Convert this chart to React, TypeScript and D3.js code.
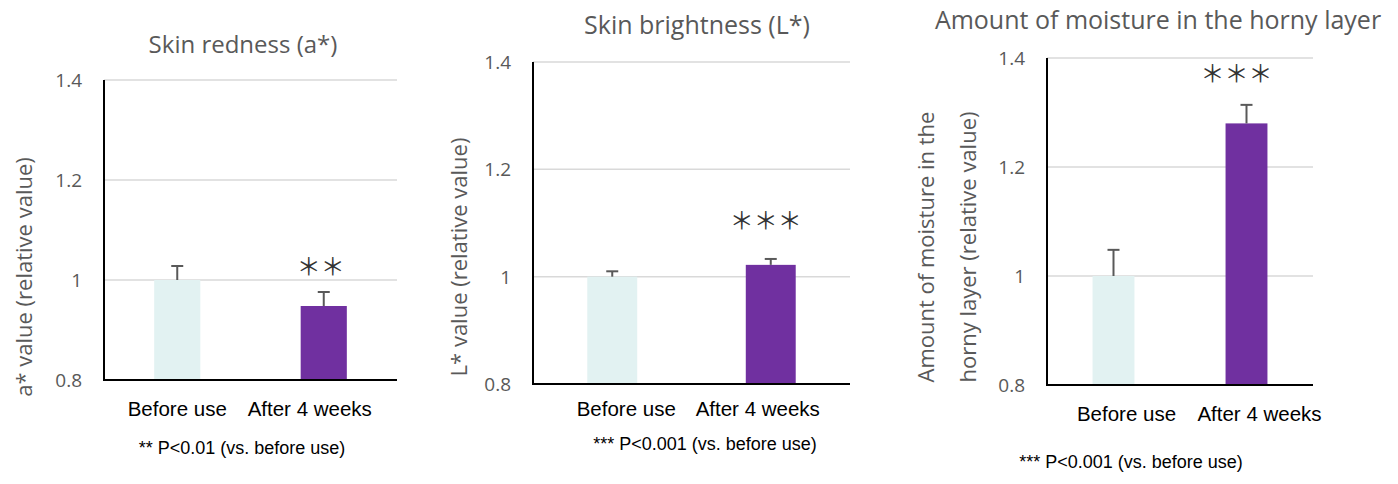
import * as d3 from "d3";

const categories = ["Before use", "After 4 weeks"];
const yTicks = [0.8, 1, 1.2, 1.4];

// means and +SD per chart
const rednessMeans = [1.0, 0.948];
const rednessErr = [0.028, 0.028];
const brightnessMeans = [1.0, 1.022];
const brightnessErr = [0.01, 0.011];
const moistureMeans = [1.0, 1.28];
const moistureErr = [0.048, 0.034];

const barColors = ["#e2f2f2", "#7030a0"];
const GRAY = "#595959";
const TITLE_FONT = "'Open Sans', 'Noto Sans', sans-serif";
const LABEL_FONT = "'Liberation Sans', Arial, sans-serif";

interface Panel {
  title: string;
  titleX: number;
  titleY: number;
  titleSize: number;
  yLabel: string[];
  yLabelX: number[];
  yLabelY: number;
  means: number[];
  errs: number[];
  stars: string;
  starY: number;
  starDx: number;
  note: string;
  noteX: number;
  noteY: number;
  left: number;
  right: number;
  top: number;
  bottom: number;
  labelY: number;
  labelDx: number[];
}

const panels: Panel[] = [
  {
    title: "Skin redness (a*)",
    titleX: 243,
    titleY: 53,
    titleSize: 24,
    yLabel: ["a* value (relative value)"],
    yLabelX: [24],
    yLabelY: 277,
    means: rednessMeans,
    errs: rednessErr,
    stars: "＊＊",
    starY: 1.026,
    starDx: -3,
    note: "** P<0.01 (vs. before use)",
    noteX: 242,
    noteY: 454,
    left: 104,
    right: 397,
    top: 80,
    bottom: 380,
    labelY: 416,
    labelDx: [0, -14],
  },
  {
    title: "Skin brightness (L*)",
    titleX: 697,
    titleY: 34,
    titleSize: 25,
    yLabel: ["L* value (relative value)"],
    yLabelX: [459],
    yLabelY: 257,
    means: brightnessMeans,
    errs: brightnessErr,
    stars: "＊＊＊",
    starY: 1.105,
    starDx: -5,
    note: "*** P<0.001 (vs. before use)",
    noteX: 705,
    noteY: 450,
    left: 533,
    right: 850,
    top: 62,
    bottom: 384,
    labelY: 416,
    labelDx: [14, -13],
  },
  {
    title: "Amount of moisture in the horny layer",
    titleX: 1158,
    titleY: 29,
    titleSize: 25,
    yLabel: ["Amount of moisture in the", "horny layer (relative value)"],
    yLabelX: [926, 968],
    yLabelY: 247,
    means: moistureMeans,
    errs: moistureErr,
    stars: "＊＊＊",
    starY: 1.372,
    starDx: -10,
    note: "*** P<0.001 (vs. before use)",
    noteX: 1131,
    noteY: 468,
    left: 1047,
    right: 1313,
    top: 58,
    bottom: 385,
    labelY: 421,
    labelDx: [13, 13],
  },
];

function BarPanel({ p }: { p: Panel }) {
  const x = d3
    .scaleBand<string>()
    .domain(categories)
    .range([p.left, p.right])
    .paddingInner(0.685)
    .paddingOuter(0.3425);
  const y = d3.scaleLinear().domain([0.8, 1.4]).range([p.bottom, p.top]);
  const bw = x.bandwidth();
  const capW = 12;

  return (
    <g>
      <text
        x={p.titleX}
        y={p.titleY}
        textAnchor="middle"
        fontFamily={TITLE_FONT}
        fontSize={p.titleSize}
        fill={GRAY}
      >
        {p.title}
      </text>

      {yTicks.slice(1).map((t) => (
        <line
          key={t}
          x1={p.left}
          x2={p.right}
          y1={y(t)}
          y2={y(t)}
          stroke="#d9d9d9"
          strokeWidth={1.5}
        />
      ))}

      {yTicks.map((t) => (
        <text
          key={t}
          x={p.left - 22}
          y={y(t)}
          dy="0.36em"
          textAnchor="end"
          fontFamily={TITLE_FONT}
          fontSize={19}
          fill={GRAY}
        >
          {String(t)}
        </text>
      ))}

      {p.yLabel.map((line, i) => (
        <text
          key={i}
          transform={`translate(${p.yLabelX[i]},${p.yLabelY}) rotate(-90)`}
          textAnchor="middle"
          dy="0.35em"
          fontFamily={TITLE_FONT}
          fontSize={22}
          fill={GRAY}
        >
          {line}
        </text>
      ))}

      {categories.map((c, i) => {
        const cx = (x(c) ?? 0) + bw / 2;
        const top = y(p.means[i]);
        const errTop = y(p.means[i] + p.errs[i]);
        return (
          <g key={c}>
            <rect
              x={x(c)}
              y={top}
              width={bw}
              height={p.bottom - top}
              fill={barColors[i]}
            />
            <line x1={cx} x2={cx} y1={top} y2={errTop} stroke={GRAY} strokeWidth={2} />
            <line
              x1={cx - capW / 2}
              x2={cx + capW / 2}
              y1={errTop}
              y2={errTop}
              stroke={GRAY}
              strokeWidth={2}
            />
            <text
              x={cx + p.labelDx[i]}
              y={p.labelY}
              textAnchor="middle"
              fontFamily={LABEL_FONT}
              fontSize={20.5}
              fill="#000"
            >
              {c}
            </text>
          </g>
        );
      })}

      <text
        x={(x(categories[1]) ?? 0) + bw / 2 + p.starDx}
        y={y(p.starY)}
        dy="0.35em"
        textAnchor="middle"
        fontFamily="'Noto Sans CJK JP', sans-serif"
        fontSize={24}
        fill="#333"
      >
        {p.stars}
      </text>

      <line
        x1={p.left}
        x2={p.left}
        y1={p.top}
        y2={p.bottom}
        stroke="#000"
        strokeWidth={2}
      />
      <line
        x1={p.left - 1}
        x2={p.right}
        y1={p.bottom}
        y2={p.bottom}
        stroke="#000"
        strokeWidth={2}
      />

      <text
        x={p.noteX}
        y={p.noteY}
        textAnchor="middle"
        fontFamily={LABEL_FONT}
        fontSize={18}
        fill="#000"
      >
        {p.note}
      </text>
    </g>
  );
}

export default function App() {
  return (
    <svg
      width={1398}
      height={484}
      style={{ position: "absolute", left: 0, top: 0, background: "#fff" }}
    >
      {panels.map((p) => (
        <BarPanel key={p.title} p={p} />
      ))}
    </svg>
  );
}
